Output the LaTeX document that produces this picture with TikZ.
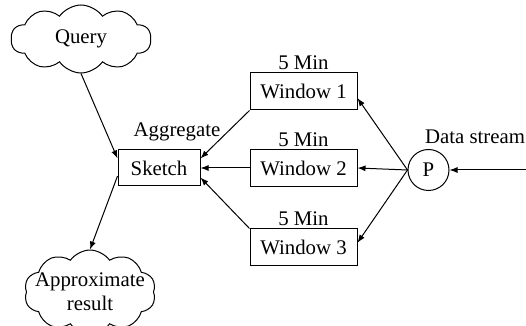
\documentclass[tikz,border=0pt]{standalone}
\usepackage{fontspec}
\setmainfont{Liberation Serif}
\usepackage{tikz}
\usetikzlibrary{shapes.symbols, arrows.meta}

\begin{document}
\begin{tikzpicture}[x=0.5pt, y=-0.5pt, font=\fontsize{10.4}{12}\selectfont,
    line width=0.5pt, >={Latex[length=4pt, width=3pt]}]
        \useasboundingbox (0,0) rectangle (526,326);
        % Nodes
        \node[cloud, draw, cloud puffs=10, cloud puff arc=110, aspect=2.3, inner sep=0pt, minimum width=70pt, minimum height=34pt] (query) at (81, 39) {Query};
        \node[cloud, draw, cloud puffs=10, cloud puff arc=110, aspect=1.9, inner xsep=-5pt, inner ysep=-3pt, align=center] (approx) at (90, 292) {Approximate\\result};
        \node[rectangle, draw, minimum width=41pt, minimum height=18pt] (sketch) at (159, 168) {Sketch};
        \node[rectangle, draw, minimum width=53.5pt, minimum height=18.5pt, label={[inner sep=1pt]above:5 Min}] (w1) at (303.5, 91.5) {Window 1};
        \node[rectangle, draw, minimum width=53.5pt, minimum height=18.5pt, label={[inner sep=1pt]above:5 Min}] (w2) at (303.5, 168) {Window 2};
        \node[rectangle, draw, minimum width=53.5pt, minimum height=18.5pt, label={[inner sep=1pt]above:5 Min}] (w3) at (303.5, 247.5) {Window 3};
        \node[circle, draw, minimum size=20.5pt, inner sep=0pt] (p) at (428.5, 170) {P};
        \node (agg) at (177, 132) {Aggregate};
        \node (ds) at (475, 137) {Data stream};
        \coordinate (in) at (526, 170);

        % Edges
        \draw[->] (query.south) -- (sketch.167);
        \draw[->] (sketch.191) -- (approx.north);
        \draw[->] (w1.south west) -- (sketch.13);
        \draw[->] (w2.west) -- (sketch.east);
        \draw[->] (w3.north west) -- (sketch.347);
        \draw[->] (p.west) -- (w1.353);
        \draw[->] (p.west) -- (w2.east);
        \draw[->] (p.west) -- (w3.5);
        \draw[->] (in) -- (p.east);
\end{tikzpicture}
\end{document}
